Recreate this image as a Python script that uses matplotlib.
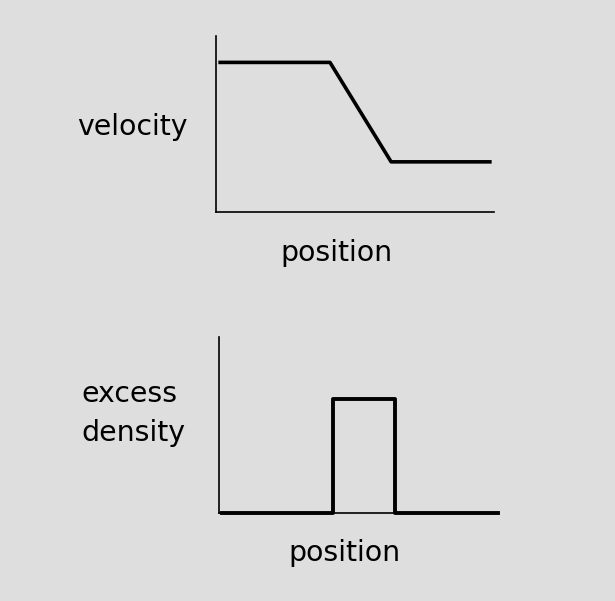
import matplotlib.pyplot as plt

# velocity profile (arbitrary units)
vel_x = [0.15, 4.1, 6.3, 9.85]
vel_y = [8.5, 8.5, 2.85, 2.85]

# excess density profile
dens_x = [0.1, 4.1, 4.1, 6.3, 6.3, 10.0]
dens_y = [0.0, 0.0, 6.5, 6.5, 0.0, 0.0]

bg = '#dedede'
fig = plt.figure(figsize=(6.15, 6.01), dpi=100)
fig.patch.set_facecolor(bg)

ax1 = fig.add_axes([216 / 615, 1 - 212 / 601, 278 / 615, 176 / 601])
ax2 = fig.add_axes([219 / 615, 1 - 513 / 601, 279 / 615, 176 / 601])

for ax in (ax1, ax2):
    ax.set_facecolor(bg)
    ax.set_xlim(0, 10)
    ax.set_ylim(0, 10)
    ax.spines['top'].set_visible(False)
    ax.spines['right'].set_visible(False)
    ax.spines['left'].set_linewidth(1.2)
    ax.spines['bottom'].set_linewidth(1.2)
    ax.set_xticks([])
    ax.set_yticks([])

ax1.plot(vel_x, vel_y, color='black', lw=2.6, clip_on=False)
ax2.plot(dens_x, dens_y, color='black', lw=2.8, clip_on=False)

fs = 20.4
fig.text(132 / 615, 1 - 127 / 601, 'velocity', fontsize=fs, ha='center', va='center')
fig.text(336 / 615, 1 - 253 / 601, 'position', fontsize=fs, ha='center', va='center')
fig.text(81 / 615, 1 - 394 / 601, 'excess', fontsize=fs, ha='left', va='center')
fig.text(81 / 615, 1 - 433 / 601, 'density', fontsize=fs, ha='left', va='center')
fig.text(344 / 615, 1 - 553 / 601, 'position', fontsize=fs, ha='center', va='center')

plt.savefig('out.png', dpi=100, facecolor=fig.get_facecolor())
